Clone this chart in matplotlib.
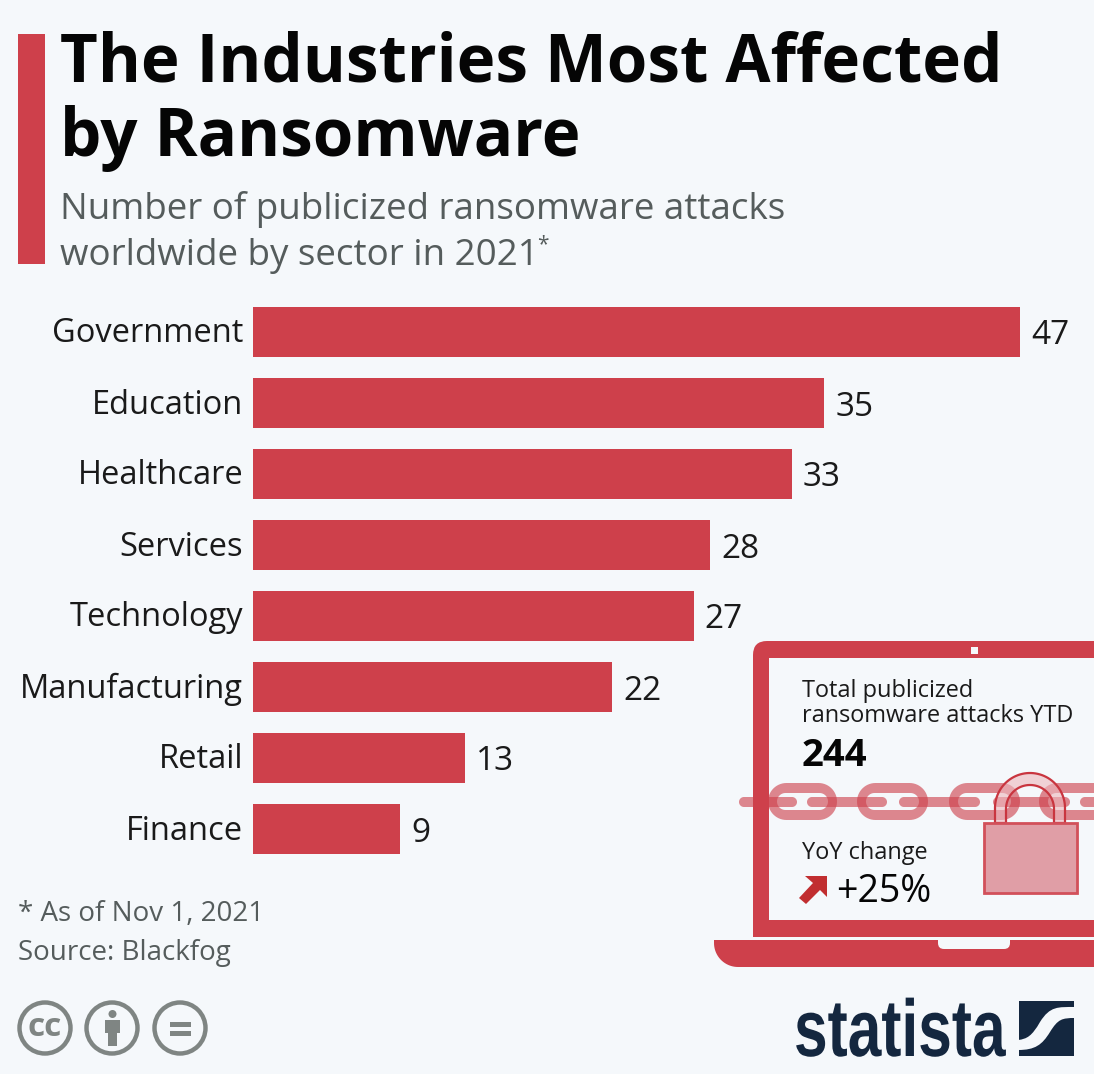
import numpy as np
import matplotlib
matplotlib.use('Agg')
import matplotlib.pyplot as plt
from matplotlib.patches import Rectangle, Circle, PathPatch, FancyBboxPatch, Polygon
from matplotlib.path import Path
from matplotlib.patheffects import AbstractPathEffect
from matplotlib.transforms import Affine2D, ScaledTranslation

categories = ['Government', 'Education', 'Healthcare', 'Services',
              'Technology', 'Manufacturing', 'Retail', 'Finance']
attacks = [47, 35, 33, 28, 27, 22, 13, 9]
total_ytd = '244'
yoy_change = '+25%'

W, H = 1094, 1074
BG = '#F5F8FB'
RED = '#CE404B'
GREY = '#555C5C'
DARK = '#1A1A1A'
ICON = '#7F8583'
NAVY = '#14273F'
plt.rcParams['font.family'] = ['Open Sans', 'DejaVu Sans']


class Squeeze(AbstractPathEffect):
    # narrows the glyphs, no condensed font here
    def __init__(self, sx):
        super().__init__()
        self.sx = sx

    def draw_path(self, renderer, gc, tpath, affine, rgbFace=None):
        renderer.draw_path(gc, tpath, Affine2D().scale(self.sx, 1) + affine, rgbFace)


def pill(x0, x1, y0, y1):
    # rounded bar as a closed path, pixel coordinates
    r = (y1 - y0) / 2
    yc = (y0 + y1) / 2
    a = np.linspace(-np.pi / 2, np.pi / 2, 30)
    right = np.c_[x1 - r + r * np.cos(a), yc + r * np.sin(a)]
    left = np.c_[x0 + r - r * np.cos(a[::-1]), yc + r * np.sin(a[::-1])]
    return np.vstack([right, left, right[:1]])


def ring(x0, x1, y0, y1, ix0, ix1, iy0, iy1):
    outer = pill(x0, x1, y0, y1)
    inner = pill(ix0, ix1, iy0, iy1)[::-1]
    verts = np.vstack([outer, inner])
    codes = [Path.MOVETO] + [Path.LINETO] * (len(outer) - 1)
    codes += [Path.MOVETO] + [Path.LINETO] * (len(inner) - 1)
    return Path(verts, codes)


fig = plt.figure(figsize=(W / 100, H / 100), dpi=100, facecolor=BG)

# bars
ax = fig.add_axes([253 / W, 1 - 864.5 / H, (1020 - 253) / W, 568 / H])
ax.set_facecolor('none')
bars = ax.barh(range(len(attacks)), attacks, height=0.718, color=RED)
ax.set_xlim(0, 47)
ax.set_ylim(7.5, -0.5)
ax.set_yticks(range(len(categories)))
ax.set_yticklabels(categories, fontsize=23.5, color=DARK, va='center')
ax.set_xticks([])
ax.tick_params(axis='y', length=0, pad=7)
for lab in ax.get_yticklabels():
    lab.set_transform(lab.get_transform() + ScaledTranslation(0, -0.02, fig.dpi_scale_trans))
for s in ax.spines.values():
    s.set_visible(False)
for t in ax.bar_label(bars, padding=8, fontsize=24, color=DARK):
    t.set_va('center_baseline')

# everything else in pixel coordinates
ov = fig.add_axes([0, 0, 1, 1], zorder=5)
ov.set_xlim(0, W)
ov.set_ylim(H, 0)
ov.axis('off')

# headline
ov.add_patch(Rectangle((18, 34), 27, 230, color=RED, lw=0))
ov.text(60, 82, 'The Industries Most Affected', fontsize=47.2, fontweight='bold', color='#050505')
ov.text(60, 156, 'by Ransomware', fontsize=47.2, fontweight='bold', color='#050505')
ov.text(60, 219, 'Number of publicized ransomware attacks', fontsize=26.45, color=GREY)
ov.text(60, 265, 'worldwide by sector in 2021', fontsize=26.45, color=GREY)
ov.text(537, 250, '*', fontsize=15, color=GREY)

# footer
ov.text(18, 921, '* As of Nov 1, 2021', fontsize=20, color=GREY)
ov.text(18, 960, 'Source: Blackfog', fontsize=20, color=GREY)

# laptop base with notch, then the screen frame
a = np.linspace(np.pi / 2, np.pi, 20)
corner = np.c_[738 + 24 * np.cos(a), 943 + 24 * np.sin(a)]
ov.add_patch(Polygon(np.vstack([[[714, 940], [1094, 940], [1094, 967]], corner]), fc=RED, ec='none'))
ov.add_patch(FancyBboxPatch((938, 930), 72, 19, boxstyle='round,pad=0,rounding_size=6', fc=BG, ec='none'))
ov.add_patch(Rectangle((714, 920), 380, 20, color=BG, lw=0))
ov.add_patch(FancyBboxPatch((753, 641), 400, 296, boxstyle='round,pad=0,rounding_size=14',
                            fc=RED, ec='none'))
ov.add_patch(Rectangle((753, 700), 30, 237, color=RED, lw=0))
ov.add_patch(Rectangle((769, 658), 340, 262, color=BG, lw=0))
ov.add_patch(Rectangle((971, 647), 6.5, 6.5, color=BG, lw=0))

# chain
for x0, x1 in [(739, 797), (807, 887), (899, 980), (993, 1070), (1080, 1130)]:
    ov.add_patch(Polygon(pill(x0, x1, 797, 807), fc=RED, ec='none', alpha=0.62))
for x0, x1 in [(768, 837), (857, 928), (949, 1020), (1039, 1120)]:
    ov.add_patch(PathPatch(ring(x0, x1, 783, 820, x0 + 9, x1 - 9, 793, 810),
                           fc=RED, ec='none', alpha=0.62))

# lock
a = np.linspace(np.pi, 2 * np.pi, 50)
cx = 1030
outer = np.c_[cx + 35 * np.cos(a), 808 + 35 * np.sin(a)]
inner = np.c_[cx + 24 * np.cos(a[::-1]), 809 + 24 * np.sin(a[::-1])]
shackle = np.vstack([[[995, 823]], outer, [[1065, 823], [1054, 823]], inner, [[1006, 823]]])
ov.add_patch(Polygon(shackle, closed=True, fc=(0.93, 0.72, 0.74, 0.6), ec='#C9353F', lw=1.6))
ov.add_patch(Rectangle((983.5, 823), 93, 70, fc='#E09EA6', ec='#D2505A', lw=2))

# laptop texts
ov.text(802, 697, 'Total publicized', fontsize=16.9, color=DARK)
ov.text(802, 722, 'ransomware attacks YTD', fontsize=16.9, color=DARK)
ov.text(802, 766, total_ytd, fontsize=27.5, fontweight='bold', color='#050505')
ov.text(802, 859, 'YoY change', fontsize=16.9, color=DARK)
ov.text(836, 902, yoy_change, fontsize=27, color='#050505')
ov.add_patch(Polygon([(805, 876), (827, 876), (827, 897), (820, 890), (806, 904),
                      (799, 898), (813, 883)], fc='#C12E30', ec='none'))

# creative commons icons
for cx in (45, 112, 180):
    ov.add_patch(Circle((cx, 1028), 25.5, fc='none', ec=ICON, lw=3.2))
ov.text(45, 1028, 'cc', fontsize=24, fontweight='bold', color=ICON, ha='center', va='center')
ov.add_patch(Circle((112.5, 1014), 4, fc=ICON, ec='none'))
ov.add_patch(Polygon([(105, 1020), (120, 1020), (120, 1033), (117, 1033), (117, 1046),
                      (108, 1046), (108, 1033), (105, 1033)], fc=ICON, ec='none'))
ov.add_patch(Rectangle((170, 1022), 21, 4.5, color=ICON, lw=0))
ov.add_patch(Rectangle((170, 1031), 21, 4.5, color=ICON, lw=0))

# statista logo
logo = ov.text(794, 1056, 'statista', fontsize=58, fontweight='bold', color=NAVY,
               family=['Liberation Sans', 'DejaVu Sans'])
logo.set_path_effects([Squeeze(0.75)])
ov.add_patch(Rectangle((1019, 1001), 55, 55, color=NAVY, lw=0))
swoosh = Path([(1075, 1007), (1058, 1007), (1050, 1006), (1040, 1022), (1032, 1036), (1027, 1039), (1018, 1040),
               (1018, 1050), (1035, 1050), (1042, 1045), (1050, 1032), (1058, 1019), (1062, 1018), (1075, 1018),
               (1075, 1007)],
              [Path.MOVETO, Path.CURVE4, Path.CURVE4, Path.CURVE4, Path.CURVE4, Path.CURVE4, Path.CURVE4,
               Path.LINETO, Path.CURVE4, Path.CURVE4, Path.CURVE4, Path.CURVE4, Path.CURVE4, Path.CURVE4,
               Path.CLOSEPOLY])
ov.add_patch(PathPatch(swoosh, fc=BG, ec='none'))

fig.savefig('out.png', dpi=100, facecolor=BG)
